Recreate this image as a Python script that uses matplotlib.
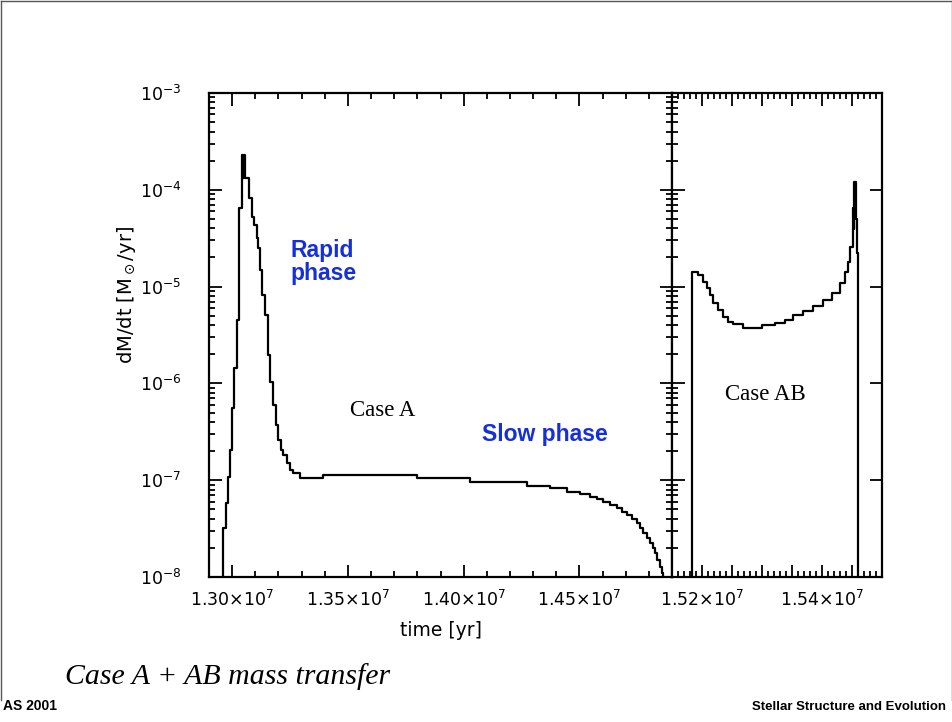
import numpy as np
import matplotlib
matplotlib.use("Agg")
import matplotlib.pyplot as plt
from matplotlib.ticker import MultipleLocator, LogLocator, FixedLocator, FuncFormatter, NullFormatter
from matplotlib.lines import Line2D

# Case A: time in units of 1e7 yr, log10(dM/dt) of each step (steps start at t)
t_a = [1.2955, 1.29618, 1.2972, 1.29806, 1.29907, 1.30008, 1.30094, 1.30195, 1.30296,
       1.30411, 1.30470, 1.30500, 1.30560, 1.30627, 1.30728, 1.30843, 1.30958, 1.31059,
       1.3113, 1.31203, 1.31304, 1.31419, 1.31535, 1.31635, 1.31779, 1.3188, 1.31995,
       1.3211, 1.3221, 1.32356, 1.32499, 1.32643, 1.32931, 1.3394, 1.3797, 1.40270,
       1.42720, 1.43730, 1.44450, 1.45026, 1.45458, 1.45746, 1.46034, 1.46322, 1.46610,
       1.46826, 1.47042, 1.47258, 1.47474, 1.47618, 1.47762, 1.47906, 1.48050, 1.48165,
       1.48266, 1.48366, 1.48482, 1.48568, 1.4862]
logm_a = [-9.0, -7.497, -7.239, -6.964, -6.688, -6.257, -5.844, -5.345, -4.191,
          -3.64, -3.88, -3.64, -3.881, -3.881, -4.088, -4.278, -4.364, -4.501,
          -4.604, -4.829, -5.087, -5.293, -5.707, -5.982, -6.223, -6.430, -6.585,
          -6.688, -6.740, -6.826, -6.895, -6.929, -6.980, -6.946, -6.980, -7.015,
          -7.056, -7.084, -7.118, -7.143, -7.170, -7.198, -7.222, -7.256, -7.291,
          -7.325, -7.360, -7.401, -7.446, -7.497, -7.549, -7.600, -7.652, -7.704,
          -7.755, -7.824, -7.893, -7.962, -9.0]

# Case AB
t_ab = [1.5180, 1.51828, 1.51940, 1.52022, 1.52078, 1.52133, 1.52189, 1.52272, 1.52356,
        1.52439, 1.52522, 1.52689, 1.52994, 1.53217, 1.53383, 1.53522, 1.53689, 1.53856,
        1.54022, 1.54161, 1.54300, 1.54383, 1.54439, 1.54467, 1.54511, 1.54530, 1.54540,
        1.54560, 1.54578, 1.54600, 1.5470]
logm_ab = [-9.0, -4.846, -4.880, -4.949, -5.018, -5.087, -5.173, -5.242, -5.311,
           -5.362, -5.390, -5.424, -5.400, -5.379, -5.345, -5.293, -5.252, -5.197,
           -5.138, -5.069, -4.966, -4.846, -4.743, -4.588, -4.191, -4.40, -3.916,
           -4.30, -4.656, -9.0, -9.0]

xticks_a = [1.30, 1.35, 1.40, 1.45]
xticks_ab_labeled = [1.52, 1.54]

W, H = 952, 722
fig = plt.figure(figsize=(W / 100, H / 100), dpi=100)

def fx(px):
    return px / W

def fy(py):
    return 1 - py / H

ax1 = fig.add_axes([fx(209), fy(577), fx(672) - fx(209), fy(93) - fy(577)])
ax2 = fig.add_axes([fx(672), fy(577), fx(882) - fx(672), fy(93) - fy(577)])

ax1.plot(t_a, 10 ** np.array(logm_a), color="black", lw=1.6, drawstyle="steps-post")
ax2.plot(t_ab, 10 ** np.array(logm_ab), color="black", lw=1.6, drawstyle="steps-post")

for ax in (ax1, ax2):
    ax.set_yscale("log")
    ax.set_ylim(1e-8, 1e-3)
    for s in ax.spines.values():
        s.set_linewidth(1.6)
    ax.tick_params(which="both", direction="in", top=True, right=True, width=1.3, labelsize=12.5)
    ax.tick_params(which="major", length=9)
    ax.tick_params(which="minor", length=4.5)
    ax.tick_params(axis="x", which="major", pad=9)
    ax.yaxis.set_major_locator(LogLocator(base=10, numticks=10))
    ax.yaxis.set_minor_locator(LogLocator(base=10, subs=np.arange(2, 10), numticks=20))
    ax.yaxis.set_minor_formatter(NullFormatter())

ax1.set_xlim(1.29, 1.49)
ax1.xaxis.set_major_locator(FixedLocator(xticks_a))
ax1.xaxis.set_minor_locator(MultipleLocator(0.01))
ax1.xaxis.set_major_formatter(FuncFormatter(lambda v, p: "%.2f×10$^7$" % v))
ax1.tick_params(axis="y", which="major", pad=20)

ax2.set_xlim(1.515, 1.550)
ax2.xaxis.set_major_locator(MultipleLocator(0.005))
ax2.xaxis.set_minor_locator(MultipleLocator(0.001))
ax2.xaxis.set_major_formatter(FuncFormatter(
    lambda v, p: "%.2f×10$^7$" % v if min(abs(v - q) for q in xticks_ab_labeled) < 1e-6 else ""))
ax2.tick_params(axis="y", which="both", labelleft=False)
ax2.tick_params(axis="y", which="minor", right=False)

fig.text(fx(127), fy(295), "dM/dt [M$_\\odot$/yr]", rotation=90, ha="center", va="center",
         fontsize=14, family="DejaVu Sans")
fig.text(fx(441), fy(630), "time [yr]", ha="center", va="center", fontsize=13.5, family="DejaVu Sans")

blue = "#1530d8"
fig.text(fx(290), fy(262), "Rapid\nphase", ha="left", va="center", fontsize=16.5,
         fontweight="bold", color=blue, family="Liberation Sans", linespacing=1.05)
fig.text(fx(482), fy(434), "Slow phase", ha="left", va="center", fontsize=16.5,
         fontweight="bold", color=blue, family="Liberation Sans")
fig.text(fx(350), fy(410), "Case A", ha="left", va="center", fontsize=16.5, family="Liberation Serif")
fig.text(fx(725), fy(395), "Case AB", ha="left", va="center", fontsize=16.5, family="Liberation Serif")

fig.text(fx(65), fy(684), "Case A + AB mass transfer", ha="left", va="baseline", fontsize=21.5,
         style="italic", family="Liberation Serif")
fig.text(fx(3), fy(710), "AS 2001", ha="left", va="baseline", fontsize=10, fontweight="bold",
         family="Liberation Sans")
fig.text(fx(946), fy(710), "Stellar Structure and Evolution", ha="right", va="baseline", fontsize=9.5,
         fontweight="bold", family="Liberation Sans")

# slide frame
for xs, ys in [((0.5, 951.5), (0.5, 0.5)), ((0.5, 0.5), (0.5, 700)), ((951.5, 951.5), (0.5, 700))]:
    fig.add_artist(Line2D([fx(x) for x in xs], [fy(y) for y in ys], color="#555555", lw=1))

fig.savefig("out.png", dpi=100)
